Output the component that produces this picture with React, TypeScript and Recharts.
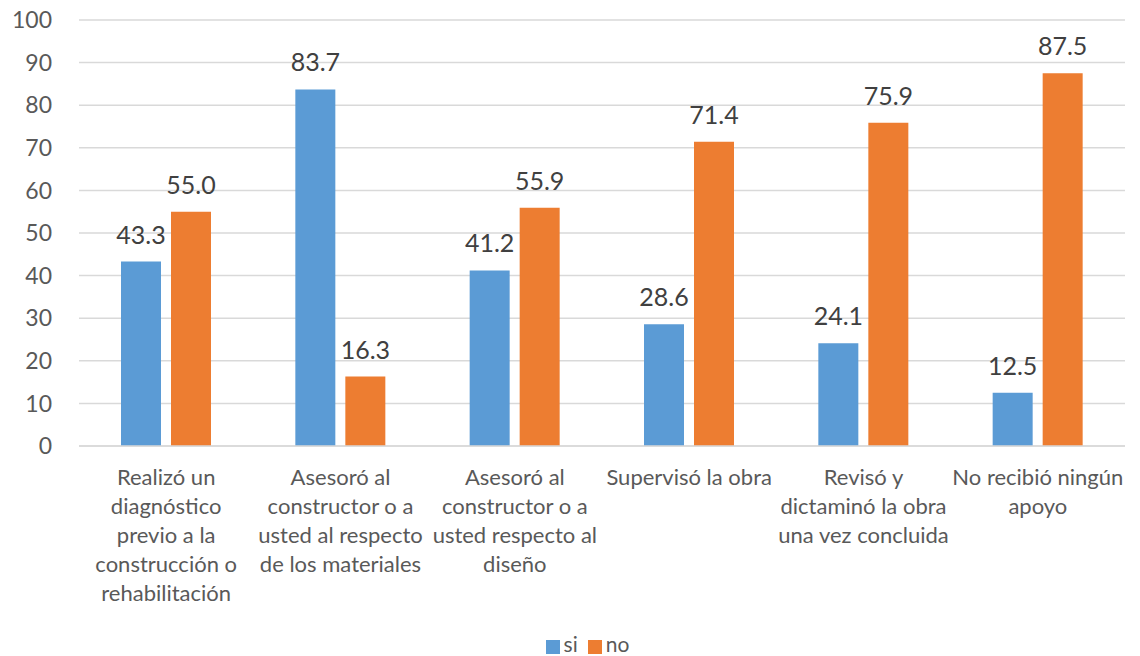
import React from 'react';
import {
  BarChart,
  Bar,
  XAxis,
  YAxis,
  CartesianGrid,
  Legend,
  LabelList,
} from 'recharts';

const categories = [
  'Realizó un diagnóstico previo a la construcción o rehabilitación',
  'Asesoró al constructor o a usted al respecto de los materiales',
  'Asesoró al constructor o a usted respecto al diseño',
  'Supervisó la obra',
  'Revisó y dictaminó la obra una vez concluida',
  'No recibió ningún apoyo',
];

const tickLines = [
  ['Realizó un', 'diagnóstico', 'previo a la', 'construcción o', 'rehabilitación'],
  ['Asesoró al', 'constructor o a', 'usted al respecto', 'de los materiales'],
  ['Asesoró al', 'constructor o a', 'usted respecto al', 'diseño'],
  ['Supervisó la obra'],
  ['Revisó y', 'dictaminó la obra', 'una vez concluida'],
  ['No recibió ningún', 'apoyo'],
];

const siValues = [43.3, 83.7, 41.2, 28.6, 24.1, 12.5];
const noValues = [55.0, 16.3, 55.9, 71.4, 75.9, 87.5];
const yTicks = [0, 10, 20, 30, 40, 50, 60, 70, 80, 90, 100];

const data = categories.map((name, i) => ({
  name,
  si: siValues[i],
  no: noValues[i],
}));

const font = 'Lato, "Open Sans", sans-serif';
const textColor = '#595959';
const legendOrder = ['si', 'no'];

function CategoryTick(props: any) {
  const { x, y, payload } = props;
  const lines = tickLines[payload.index] || [payload.value];
  return (
    <g transform={`translate(${x},${y})`}>
      {lines.map((line: string, i: number) => (
        <text
          key={i}
          x={0}
          y={31 + i * 29}
          textAnchor="middle"
          fill={textColor}
          fontSize={22}
          fontFamily={font}
        >
          {line}
        </text>
      ))}
    </g>
  );
}

export default function App() {
  return (
    <div style={{ position: 'absolute', left: 0, top: 0, width: 1140, height: 656, background: '#fff' }}>
      <BarChart
        width={1140}
        height={656}
        data={data}
        margin={{ top: 20, right: 15, bottom: 0, left: 0 }}
        barGap={10}
        barSize={40}
      >
        <CartesianGrid vertical={false} stroke="#D9D9D9" strokeWidth={1.5} />
        <XAxis
          dataKey="name"
          interval={0}
          axisLine={{ stroke: '#D9D9D9', strokeWidth: 1.5 }}
          tickLine={false}
          height={185}
          tick={<CategoryTick />}
        />
        <YAxis
          width={79}
          domain={[0, 100]}
          ticks={yTicks}
          axisLine={false}
          tickLine={false}
          tickMargin={21}
          tick={{ fill: textColor, fontSize: 23, fontFamily: font }}
        />
        <Legend
          iconType="square"
          iconSize={14}
          itemSorter={(item: any) => legendOrder.indexOf(item.dataKey)}
          wrapperStyle={{ fontFamily: font, fontSize: 21, paddingLeft: 30 }}
          formatter={(value: string) => <span style={{ color: textColor }}>{value}</span>}
        />
        <Bar dataKey="si" name="si" fill="#5B9BD5" isAnimationActive={false}>
          <LabelList
            dataKey="si"
            position="top"
            offset={18}
            fill="#404040"
            fontSize={25}
            fontFamily={font}
            formatter={(v: any) => Number(v).toFixed(1)}
          />
        </Bar>
        <Bar dataKey="no" name="no" fill="#ED7D31" isAnimationActive={false}>
          <LabelList
            dataKey="no"
            position="top"
            offset={18}
            fill="#404040"
            fontSize={25}
            fontFamily={font}
            formatter={(v: any) => Number(v).toFixed(1)}
          />
        </Bar>
      </BarChart>
    </div>
  );
}
